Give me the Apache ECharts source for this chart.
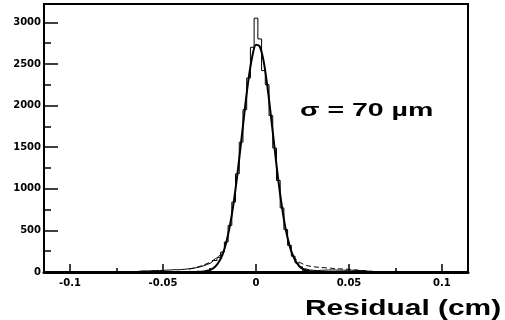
<!DOCTYPE html>
<html>
<head>
<meta charset="utf-8">
<script src="https://cdn.jsdelivr.net/npm/echarts@6/dist/echarts.min.js"></script>
<style>
  html, body { margin: 0; padding: 0; background: #fff; }
  #main { width: 505px; height: 320px; }
</style>
</head>
<body>
<div id="main"></div>
<script>
// histogram bins (centre in cm) and counts
var binCenters = [
  -0.070, -0.068, -0.066, -0.064, -0.062, -0.060, -0.058, -0.056, -0.054, -0.052,
  -0.050, -0.048, -0.046, -0.044, -0.042, -0.040, -0.038, -0.036, -0.034, -0.032,
  -0.030, -0.028, -0.026, -0.024, -0.022, -0.020, -0.018, -0.016, -0.014, -0.012,
  -0.010, -0.008, -0.006, -0.004, -0.002, 0.000, 0.002, 0.004, 0.006, 0.008,
  0.010, 0.012, 0.014, 0.016, 0.018, 0.020, 0.022, 0.024, 0.026, 0.028,
  0.030, 0.032, 0.034, 0.036, 0.038, 0.040, 0.042, 0.044, 0.046, 0.048,
  0.050, 0.052, 0.054, 0.056, 0.058, 0.060, 0.062, 0.064, 0.066, 0.068, 0.070
];
var counts = [
  2, 3, 4, 6, 10, 14, 12, 16, 18, 17,
  20, 22, 24, 28, 26, 30, 34, 38, 44, 52,
  62, 76, 92, 112, 138, 176, 240, 360, 560, 840,
  1180, 1560, 1950, 2330, 2700, 3050, 2800, 2420, 2250, 1880,
  1490, 1100, 770, 510, 320, 190, 110, 62, 36, 24,
  20, 18, 20, 22, 24, 25, 24, 22, 22, 20,
  22, 20, 18, 16, 12, 9, 7, 5, 4, 3, 2
];

// gaussian fit curve
var fitX = [
  -0.032, -0.030, -0.028, -0.026, -0.024, -0.022, -0.020, -0.018, -0.016, -0.014, -0.012,
  -0.010, -0.008, -0.006, -0.004, -0.002, 0.000, 0.002, 0.004, 0.006, 0.008, 0.010,
  0.012, 0.014, 0.016, 0.018, 0.020, 0.022, 0.024, 0.026, 0.028, 0.030, 0.032
];
var fitY = [
  2, 4, 7, 15, 32, 63, 120, 210, 355, 560, 835,
  1175, 1560, 1960, 2320, 2590, 2730, 2710, 2545, 2250, 1880, 1485,
  1100, 775, 510, 320, 190, 105, 55, 27, 13, 6, 2
];

// dashed tails
var dashLeftX = [-0.036, -0.032, -0.028, -0.024, -0.020, -0.017];
var dashLeftY = [35, 56, 85, 128, 190, 240];
var dashRightX = [0.020, 0.022, 0.024, 0.027, 0.030, 0.034, 0.040, 0.045, 0.050, 0.055, 0.058, 0.062];
var dashRightY = [190, 140, 110, 80, 66, 56, 46, 38, 32, 22, 16, 10];

function pairs(xs, ys) {
  return xs.map(function (x, i) { return [x, ys[i]]; });
}

var chart = echarts.init(document.getElementById('main'));

var option = {
  animation: false,
  backgroundColor: '#fff',
  grid: {
    left: 44,
    right: 37,
    top: 4,
    bottom: 48,
    show: true,
    borderColor: '#000',
    borderWidth: 2
  },
  xAxis: {
    type: 'value',
    min: -0.114,
    max: 0.114,
    splitNumber: 5,
    splitLine: { show: false },
    axisLine: { onZero: false, lineStyle: { color: '#000', width: 3 } },
    axisTick: { inside: true, length: 8, lineStyle: { color: '#000', width: 1.5 } },
    minorTick: { show: true, splitNumber: 2, length: 4, lineStyle: { color: '#000', width: 1.5 } },
    axisLabel: {
      margin: 6,
      color: '#000',
      fontFamily: 'DejaVu Sans',
      fontWeight: 'bold',
      fontSize: 10,
      showMinLabel: false,
      showMaxLabel: false,
      formatter: function (v) { return String(v); }
    }
  },
  yAxis: {
    type: 'value',
    min: 0,
    max: 3220,
    interval: 500,
    splitLine: { show: false },
    axisLine: { show: true, onZero: false, lineStyle: { color: '#000', width: 2 } },
    axisTick: { show: true, inside: true, length: 14, lineStyle: { color: '#000', width: 1.5 } },
    minorTick: { show: true, splitNumber: 2, length: 7, lineStyle: { color: '#000', width: 1.5 } },
    axisLabel: {
      margin: 3,
      color: '#000',
      fontFamily: 'DejaVu Sans',
      fontWeight: 'bold',
      fontSize: 10,
      showMaxLabel: false,
      formatter: function (v) { return String(v); }
    }
  },
  series: [
    {
      name: 'data',
      type: 'line',
      step: 'middle',
      symbol: 'none',
      data: pairs(binCenters, counts),
      lineStyle: { color: '#000', width: 1 }
    },
    {
      name: 'fit',
      type: 'line',
      smooth: 0.3,
      symbol: 'none',
      data: pairs(fitX, fitY),
      lineStyle: { color: '#000', width: 2 }
    },
    {
      name: 'tailL',
      type: 'line',
      smooth: 0.3,
      symbol: 'none',
      data: pairs(dashLeftX, dashLeftY),
      lineStyle: { color: '#000', width: 1, type: [5, 3] }
    },
    {
      name: 'tailR',
      type: 'line',
      smooth: 0.3,
      symbol: 'none',
      data: pairs(dashRightX, dashRightY),
      lineStyle: { color: '#000', width: 1, type: [5, 3] }
    }
  ],
  graphic: [
    {
      type: 'text',
      x: 300,
      y: 111,
      scaleX: 1.5,
      style: {
        text: 'σ = 70 µm',
        font: 'bold 19px "Liberation Sans"',
        fill: '#000',
        textAlign: 'left',
        textVerticalAlign: 'middle',
        align: 'left',
        verticalAlign: 'middle'
      }
    },
    {
      type: 'text',
      x: 305,
      y: 309,
      scaleX: 1.36,
      style: {
        text: 'Residual (cm)',
        font: 'bold 22px "Liberation Sans"',
        fill: '#000',
        textAlign: 'left',
        textVerticalAlign: 'middle',
        align: 'left',
        verticalAlign: 'middle'
      }
    }
  ]
};

option && chart.setOption(option);
</script>
</body>
</html>
